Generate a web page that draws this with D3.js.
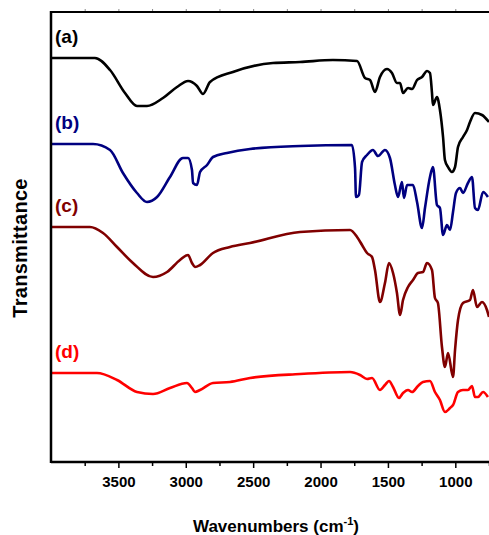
<!DOCTYPE html>
<html>
<head>
<meta charset="utf-8">
<script src="https://cdn.jsdelivr.net/npm/d3@7"></script>
<style>
  body { margin: 0; background: #fff; }
  svg { display: block; font-family: 'Liberation Sans', Arial, sans-serif; }
</style>
</head>
<body>
<div id="chart"></div>
<script>
// FTIR spectra, wavenumber (cm-1) vs transmittance (arbitrary, offset)

const waveA = [4000, 3674, 3562, 3451, 3362, 3288, 3169, 3065, 2983, 2917, 2872, 2820, 2650, 2353, 2152, 1908, 1729, 1670, 1633, 1596, 1559, 1507, 1470, 1433, 1410, 1388, 1351, 1321, 1284, 1247, 1210, 1188, 1173, 1166, 1136, 1114, 1091, 1077, 1054, 1025, 1002, 980, 943, 913, 891, 854, 802, 750]
const transA = [40.4, 40.4, 39.2, 36.9, 35.6, 35.6, 36.4, 37.5, 38.1, 37.6, 36.8, 38.0, 39.0, 39.9, 40.0, 40.2, 40.1, 38.4, 38.2, 37.0, 38.5, 39.3, 38.9, 37.9, 37.9, 36.9, 37.4, 37.3, 38.2, 38.5, 39.1, 38.9, 36.9, 35.7, 36.5, 35.2, 32.5, 30.2, 29.5, 29.0, 29.5, 31.5, 32.5, 33.2, 34.0, 34.9, 34.7, 34.0]

const waveB = [4000, 3688, 3562, 3466, 3362, 3288, 3213, 3117, 3021, 2983, 2954, 2946, 2917, 2894, 2842, 2798, 2694, 2523, 2152, 1767, 1744, 1737, 1715, 1692, 1655, 1611, 1574, 1522, 1485, 1448, 1425, 1396, 1381, 1358, 1314, 1284, 1247, 1225, 1188, 1166, 1136, 1114, 1091, 1062, 1039, 1017, 995, 965, 943, 906, 876, 854, 832, 794, 758]
const transB = [31.8, 31.8, 31.2, 28.9, 26.9, 26.0, 26.5, 28.5, 30.4, 30.4, 29.2, 27.9, 27.7, 29.0, 29.7, 30.5, 30.9, 31.3, 31.6, 31.7, 29.4, 26.5, 26.7, 30.0, 30.7, 31.2, 30.6, 31.2, 30.4, 27.7, 26.5, 28.0, 26.4, 27.7, 27.7, 26.0, 23.4, 25.4, 28.5, 29.5, 25.7, 25.4, 22.7, 23.7, 23.2, 25.0, 26.9, 27.4, 26.9, 27.9, 28.5, 25.4, 25.2, 27.0, 26.5]

const waveC = [4000, 3711, 3614, 3510, 3392, 3243, 3139, 3043, 2983, 2954, 2932, 2894, 2798, 2672, 2523, 2152, 1781, 1729, 1692, 1655, 1618, 1596, 1559, 1522, 1492, 1462, 1433, 1410, 1388, 1351, 1314, 1277, 1240, 1210, 1173, 1151, 1129, 1099, 1077, 1054, 1017, 1002, 980, 943, 891, 869, 839, 802, 765, 750]
const transC = [23.5, 23.5, 22.9, 21.5, 19.9, 18.5, 19.0, 20.2, 20.7, 19.9, 19.5, 19.7, 20.9, 21.5, 21.9, 23.0, 23.2, 22.5, 21.7, 20.9, 20.5, 19.2, 16.0, 17.9, 19.9, 18.9, 16.9, 14.7, 16.2, 17.5, 18.2, 18.9, 19.0, 19.9, 19.2, 16.4, 15.9, 11.5, 9.5, 10.9, 8.5, 11.2, 14.2, 15.9, 16.2, 17.2, 15.5, 16.0, 15.2, 14.5]

const waveD = [4000, 3659, 3510, 3362, 3243, 3117, 2991, 2954, 2932, 2894, 2798, 2672, 2523, 2152, 1781, 1707, 1655, 1618, 1559, 1522, 1492, 1462, 1418, 1388, 1351, 1321, 1277, 1240, 1188, 1151, 1114, 1077, 1039, 1017, 980, 943, 906, 876, 854, 832, 794, 758]
const transD = [8.9, 8.9, 8.2, 7.0, 6.8, 7.4, 7.9, 7.4, 7.0, 7.2, 7.9, 8.0, 8.4, 8.8, 9.0, 8.7, 8.3, 8.4, 7.2, 7.7, 8.1, 7.5, 6.4, 6.9, 7.2, 7.0, 7.6, 8.0, 8.1, 7.0, 6.2, 5.0, 5.4, 5.7, 7.0, 7.2, 7.2, 7.6, 6.5, 6.5, 7.0, 6.5]

const seriesNames = ['(a)', '(b)', '(c)', '(d)']
const seriesColors = ['#000000', '#000080', '#800000', '#ff0000']
const xTicks = [3500, 3000, 2500, 2000, 1500, 1000]
const xMinorTicks = [3750, 3250, 2750, 2250, 1750, 1250, 750]

const W = 489
const H = 535
const margin = { top: 12, right: 0, bottom: 73, left: 51 }

const svg = d3.select('#chart').append('svg')
  .attr('width', W)
  .attr('height', H)

const x = d3.scaleLinear()
  .domain([4000, 750])
  .range([margin.left, W - margin.right])
const y = d3.scaleLinear()
  .domain([0, 45])
  .range([H - margin.bottom, margin.top])

const series = [
  { wave: waveA, trans: transA },
  { wave: waveB, trans: transB },
  { wave: waveC, trans: transC },
  { wave: waveD, trans: transD }
].map((s, i) => ({
  name: seriesNames[i],
  color: seriesColors[i],
  points: s.wave.map((w, j) => ({ w, t: s.trans[j] }))
}))

svg.append('clipPath')
  .attr('id', 'plot-clip')
  .append('rect')
  .attr('x', margin.left)
  .attr('y', margin.top)
  .attr('width', W - margin.left - margin.right)
  .attr('height', H - margin.top - margin.bottom)

// spectra
const line = d3.line()
  .x(d => x(d.w))
  .y(d => y(d.t))
  .curve(d3.curveMonotoneX)

svg.append('g')
  .attr('clip-path', 'url(#plot-clip)')
  .selectAll('path')
  .data(series)
  .join('path')
  .attr('fill', 'none')
  .attr('stroke', d => d.color)
  .attr('stroke-width', 2.6)
  .attr('stroke-linejoin', 'round')
  .attr('d', d => line(d.points))

// series labels, just above the start of each curve
svg.append('g')
  .selectAll('text')
  .data(series)
  .join('text')
  .attr('x', x(3970))
  .attr('y', d => y(d.points[0].t) - 15)
  .attr('fill', d => d.color)
  .attr('font-size', 19)
  .attr('font-weight', 'bold')
  .text(d => d.name)

// axes
const xAxis = d3.axisBottom(x)
  .tickValues(xTicks)
  .tickFormat(d3.format('d'))
  .tickSize(6)
  .tickPadding(8)
svg.append('g')
  .attr('class', 'xAxis')
  .attr('transform', 'translate(0,' + (H - margin.bottom) + ')')
  .call(xAxis)
  .call(g => g.select('.domain').remove())
  .call(g => g.selectAll('line').attr('stroke-width', 1.5))
  .call(g => g.selectAll('text')
    .attr('font-size', 15)
    .attr('font-weight', 'bold')
    .attr('font-family', 'Liberation Sans, Arial, sans-serif'))

svg.append('g')
  .attr('class', 'xMinor')
  .attr('transform', 'translate(0,' + (H - margin.bottom) + ')')
  .call(d3.axisBottom(x).tickValues(xMinorTicks).tickSize(4).tickFormat(''))
  .call(g => g.select('.domain').remove())
  .call(g => g.selectAll('line').attr('stroke-width', 1.5))

// top ticks
svg.append('g')
  .attr('transform', 'translate(0,' + margin.top + ')')
  .call(d3.axisTop(x).tickValues(xTicks.concat(xMinorTicks)).tickSize(3).tickFormat(''))
  .call(g => g.select('.domain').remove())
  .call(g => g.selectAll('line').attr('stroke', '#888'))

// frame (left, bottom, top) - plot runs off the right edge
svg.append('line')
  .attr('x1', margin.left).attr('x2', W)
  .attr('y1', margin.top).attr('y2', margin.top)
  .attr('stroke', '#000').attr('stroke-width', 2)
svg.append('line')
  .attr('x1', margin.left).attr('x2', W)
  .attr('y1', H - margin.bottom).attr('y2', H - margin.bottom)
  .attr('stroke', '#000').attr('stroke-width', 2.5)
svg.append('line')
  .attr('x1', margin.left).attr('x2', margin.left)
  .attr('y1', margin.top - 1).attr('y2', H - margin.bottom + 1)
  .attr('stroke', '#000').attr('stroke-width', 2.5)

// axis titles
const xTitle = svg.append('text')
  .attr('x', (margin.left + W) / 2 + 6)
  .attr('y', 532)
  .attr('text-anchor', 'middle')
  .attr('font-size', 17)
  .attr('font-weight', 'bold')
xTitle.append('tspan').text('Wavenumbers (cm')
xTitle.append('tspan').attr('dy', -7).attr('font-size', 11).text('-1')
xTitle.append('tspan').attr('dy', 7).text(')')

svg.append('text')
  .attr('transform', 'translate(27,' + 248 + ') rotate(-90)')
  .attr('text-anchor', 'middle')
  .attr('font-size', 20)
  .attr('font-weight', 'bold')
  .attr('letter-spacing', 0.3)
  .text('Transmittance')
</script>
</body>
</html>
